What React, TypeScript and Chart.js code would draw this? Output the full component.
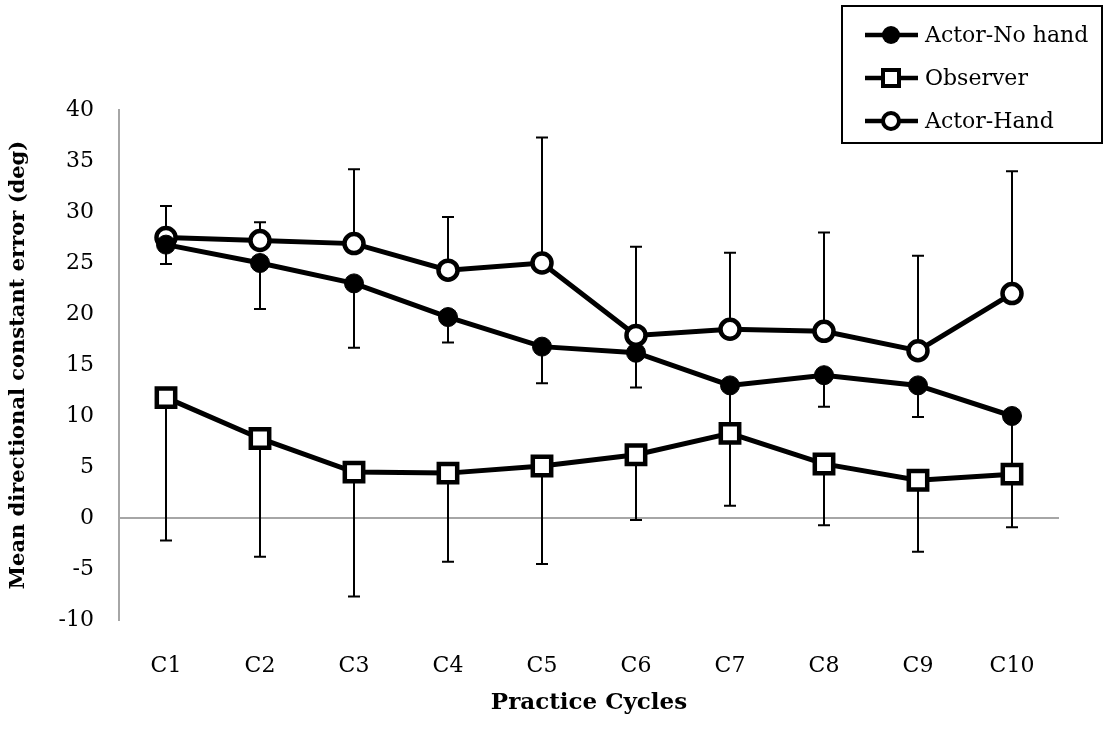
import React, { useEffect, useRef } from "react";
import { Chart, registerables } from "chart.js";

Chart.register(...registerables);

const categories = ["C1", "C2", "C3", "C4", "C5", "C6", "C7", "C8", "C9", "C10"];
const seriesNames = ["Actor-No hand", "Observer", "Actor-Hand"];
const actorNoHand = [26.8, 25.0, 23.0, 19.7, 16.8, 16.2, 13.0, 14.0, 13.0, 10.0];
const actorNoHandLower = [24.9, 20.5, 16.7, 17.2, 13.2, 12.8, 8.0, 10.9, 9.9, 4.3];
const observer = [11.8, 7.8, 4.5, 4.4, 5.1, 6.2, 8.3, 5.3, 3.7, 4.3];
const observerLower = [-2.2, -3.8, -7.7, -4.3, -4.5, -0.2, 1.2, -0.7, -3.3, -0.9];
const actorHand = [27.5, 27.2, 26.9, 24.3, 25.0, 17.9, 18.5, 18.3, 16.4, 22.0];
const actorHandUpper = [30.6, 29.0, 34.2, 29.5, 37.3, 26.6, 26.0, 28.0, 25.7, 34.0];
const yMin = -10;
const yMax = 40;
const yStep = 5;

const FONT = "'DejaVu Serif', 'Liberation Serif', serif";
const AXIS_GREY = "#a6a6a6";

const errorBarPlugin = {
  id: "errorBars",
  beforeDatasetsDraw(chart: any) {
    const ctx = chart.ctx;
    const yScale = chart.scales.y;
    ctx.save();
    ctx.strokeStyle = "#000";
    ctx.lineWidth = 2;
    chart.data.datasets.forEach((ds: any, i: number) => {
      const ends = ds.errorEnds as number[] | undefined;
      if (!ends) return;
      const meta = chart.getDatasetMeta(i);
      meta.data.forEach((pt: any, j: number) => {
        const x = pt.x;
        const y0 = pt.y;
        const y1 = yScale.getPixelForValue(ends[j]);
        ctx.beginPath();
        ctx.moveTo(x, y0);
        ctx.lineTo(x, y1);
        ctx.moveTo(x - 6, y1);
        ctx.lineTo(x + 6, y1);
        ctx.stroke();
      });
    });
    ctx.restore();
  },
};

function drawMarker(ctx: CanvasRenderingContext2D, kind: string, x: number, y: number) {
  ctx.save();
  ctx.strokeStyle = "#000";
  ctx.lineWidth = 4;
  if (kind === "filled") {
    ctx.fillStyle = "#000";
    ctx.beginPath();
    ctx.arc(x, y, 9, 0, Math.PI * 2);
    ctx.fill();
  } else if (kind === "square") {
    ctx.fillStyle = "#fff";
    ctx.beginPath();
    ctx.rect(x - 8, y - 8, 16, 16);
    ctx.fill();
    ctx.stroke();
  } else {
    ctx.fillStyle = "#fff";
    ctx.beginPath();
    ctx.arc(x, y, 8, 0, Math.PI * 2);
    ctx.fill();
    ctx.stroke();
  }
  ctx.restore();
}

const legendPlugin = {
  id: "boxLegend",
  afterDraw(chart: any) {
    const ctx = chart.ctx as CanvasRenderingContext2D;
    const kinds = ["filled", "square", "open"];
    const left = 842;
    const top = 6;
    const right = 1102;
    const bottom = 143;
    ctx.save();
    ctx.fillStyle = "#fff";
    ctx.fillRect(left, top, right - left, bottom - top);
    ctx.strokeStyle = "#000";
    ctx.lineWidth = 2;
    ctx.strokeRect(left, top, right - left, bottom - top);
    const rows = [35, 78, 121];
    seriesNames.forEach((name, i) => {
      const y = rows[i];
      ctx.strokeStyle = "#000";
      ctx.lineWidth = 4.5;
      ctx.beginPath();
      ctx.moveTo(865, y);
      ctx.lineTo(918, y);
      ctx.stroke();
      drawMarker(ctx, kinds[i], 891, y);
      ctx.fillStyle = "#000";
      ctx.font = `22px ${FONT}`;
      ctx.textAlign = "left";
      ctx.textBaseline = "middle";
      ctx.fillText(name, 925, y + 1);
    });
    ctx.restore();
  },
};

export default function App() {
  const canvasRef = useRef<HTMLCanvasElement | null>(null);

  useEffect(() => {
    document.body.style.margin = "0";
    const canvas = canvasRef.current;
    if (!canvas) return;
    const chart = new Chart(canvas, {
      type: "line",
      data: {
        labels: categories,
        datasets: [
          {
            label: seriesNames[0],
            data: actorNoHand,
            errorEnds: actorNoHandLower,
            borderColor: "#000",
            backgroundColor: "#000",
            borderWidth: 5,
            pointStyle: "circle",
            pointRadius: 9.5,
            pointBorderWidth: 1,
            pointBackgroundColor: "#000",
            pointBorderColor: "#000",
            tension: 0,
            clip: false,
          } as any,
          {
            label: seriesNames[1],
            data: observer,
            errorEnds: observerLower,
            borderColor: "#000",
            backgroundColor: "#fff",
            borderWidth: 5,
            pointStyle: "rect",
            pointRadius: 13,
            pointBorderWidth: 4.5,
            pointBackgroundColor: "#fff",
            pointBorderColor: "#000",
            tension: 0,
            clip: false,
          } as any,
          {
            label: seriesNames[2],
            data: actorHand,
            errorEnds: actorHandUpper,
            borderColor: "#000",
            backgroundColor: "#fff",
            borderWidth: 5,
            pointStyle: "circle",
            pointRadius: 9.5,
            pointBorderWidth: 4.5,
            pointBackgroundColor: "#fff",
            pointBorderColor: "#000",
            tension: 0,
            clip: false,
          } as any,
        ],
      },
      options: {
        animation: false,
        responsive: false,
        devicePixelRatio: 1,
        layout: { padding: { left: 0, right: 45, top: 110, bottom: 0 } },
        plugins: {
          legend: { display: false },
          tooltip: { enabled: false },
        },
        scales: {
          x: {
            type: "category",
            offset: true,
            grid: { display: false },
            border: { display: false },
            ticks: {
              color: "#000",
              font: { family: FONT, size: 22 },
              padding: 25,
              maxRotation: 0,
            },
            title: {
              display: true,
              text: "Practice Cycles",
              color: "#000",
              font: { family: FONT, size: 23, weight: "bold" },
              padding: { top: 0, bottom: 25 },
            },
            afterFit(scale: any) {
              scale.height = 122;
            },
          },
          y: {
            min: yMin,
            max: yMax,
            grid: {
              drawTicks: false,
              lineWidth: 2,
              color: (c: any) => (c.tick && c.tick.value === 0 ? AXIS_GREY : "rgba(0,0,0,0)"),
            },
            border: { display: true, color: AXIS_GREY, width: 2 },
            ticks: {
              stepSize: yStep,
              color: "#000",
              font: { family: FONT, size: 22 },
              padding: 25,
            },
            title: {
              display: true,
              text: "Mean directional constant error (deg)",
              color: "#000",
              font: { family: FONT, size: 21, weight: "bold" },
              padding: { top: 6, bottom: 0 },
            },
            afterFit(scale: any) {
              scale.width = 119;
            },
          },
        },
      } as any,
      plugins: [errorBarPlugin, legendPlugin],
    });
    return () => chart.destroy();
  }, []);

  return (
    <div style={{ width: 1104, height: 742, background: "#fff" }}>
      <canvas ref={canvasRef} width={1104} height={742} style={{ display: "block" }} />
    </div>
  );
}
